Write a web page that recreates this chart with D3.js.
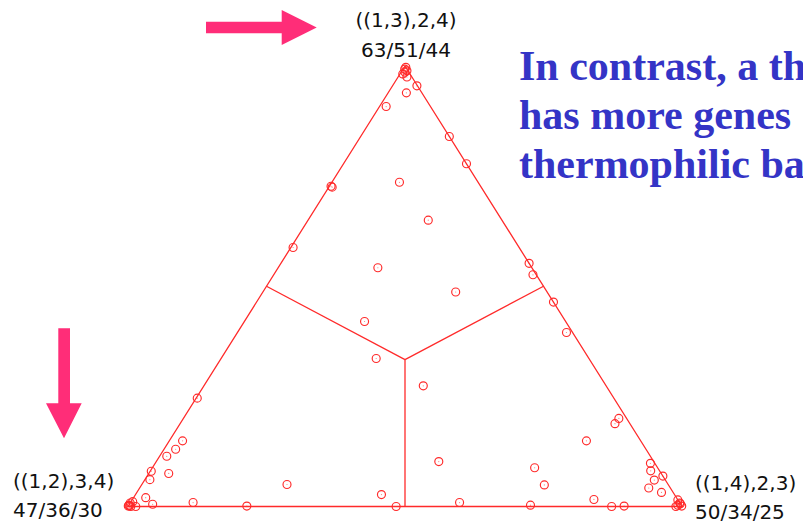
<!DOCTYPE html>
<html>
<head>
<meta charset="utf-8">
<script src="https://cdn.jsdelivr.net/npm/d3@7/dist/d3.min.js"></script>
<style>
  html, body { margin: 0; padding: 0; background: #fff; }
  svg { display: block; }
</style>
</head>
<body>
<script>
// Ternary shares of each gene: top / left / right vertex
const topShare = [
  0.997, 0.993, 0.989, 0.982, 0.975, 0.986, 0.955, 0.939, 0.908, 0.840,
  0.778, 0.727, 0.725, 0.736, 0.650, 0.588, 0.542, 0.552, 0.526, 0.487,
  0.464, 0.395, 0.420, 0.336, 0.274, 0.246, 0.149, 0.130, 0.114, 0.080,
  0.061, 0.075, 0.050, 0.020, 0.005, 0.009, 0.001, 0.011, 0.001, 0.003,
  0.000, 0.008, 0.000, 0.002, 0.102, 0.027, 0.000, 0.009, 0.088, 0.049,
  0.003, 0.200, 0.188, 0.149, 0.098, 0.081, 0.069, 0.060, 0.042, 0.032,
  0.016, 0.000, 0.001, 0.015, 0.008, 0.001, 0.003, 0.000, 0.006
];
const leftShare = [
  0.000, 0.004, 0.002, 0.013, 0.009, 0.007, 0.001, 0.028, 0.080, 0.000,
  0.000, 0.270, 0.269, 0.142, 0.133, 0.408, 0.278, 0.000, 0.006, 0.165,
  0.000, 0.011, 0.363, 0.384, 0.330, 0.752, 0.827, 0.849, 0.873, 0.918,
  0.930, 0.889, 0.688, 0.958, 0.953, 0.878, 0.785, 0.986, 0.999, 0.997,
  0.995, 0.992, 0.986, 0.996, 0.388, 0.529, 0.516, 0.397, 0.222, 0.224,
  0.272, 0.014, 0.027, 0.098, 0.008, 0.016, 0.000, 0.020, 0.039, 0.021,
  0.151, 0.127, 0.104, 0.000, 0.000, 0.000, 0.006, 0.011, 0.000
];
const rightShare = [
  0.003, 0.003, 0.009, 0.005, 0.016, 0.007, 0.044, 0.033, 0.012, 0.160,
  0.222, 0.003, 0.006, 0.122, 0.217, 0.004, 0.180, 0.448, 0.468, 0.348,
  0.536, 0.594, 0.217, 0.280, 0.396, 0.002, 0.024, 0.021, 0.013, 0.002,
  0.009, 0.036, 0.262, 0.022, 0.042, 0.113, 0.214, 0.003, 0.000, 0.000,
  0.005, 0.000, 0.014, 0.002, 0.510, 0.444, 0.484, 0.594, 0.690, 0.727,
  0.725, 0.786, 0.785, 0.753, 0.894, 0.903, 0.931, 0.920, 0.919, 0.947,
  0.833, 0.873, 0.895, 0.985, 0.992, 0.999, 0.991, 0.989, 0.994
];

// Vertex labels: tree topology and counts
const vertexTopology = ["((1,3),2,4)", "((1,2),3,4)", "((1,4),2,3)"];
const vertexCounts   = ["63/51/44", "47/36/30", "50/34/25"];

// Side text
const noteLines = ["In contrast, a thermophilic", "has more genes", "thermophilic bacteria"];

const W = 803, H = 524;
const svg = d3.select("body").append("svg").attr("width", W).attr("height", H);
svg.append("rect").attr("width", W).attr("height", H).attr("fill", "#fff");

// Ternary projection: base position and height share
const xBase = d3.scaleLinear().domain([0, 1]).range([128, 682]);
const yTop  = d3.scaleLinear().domain([0, 1]).range([506.5, 66]);
const project = (t, l, r) => [xBase(r + t / 2), yTop(t)];

const red = "#ff2a2a";
const g = svg.append("g");

// Triangle outline
const corners = [project(1, 0, 0), project(0, 1, 0), project(0, 0, 1)];
g.append("path")
  .attr("d", d3.line()([...corners, corners[0]]))
  .attr("fill", "none").attr("stroke", red).attr("stroke-width", 1.3);

// Region dividers: centroid to mid-points of the sides
const c = project(1 / 3, 1 / 3, 1 / 3);
const mids = [project(0.5, 0.5, 0), project(0.5, 0, 0.5), project(0, 0.5, 0.5)];
mids.forEach(m => {
  g.append("line")
    .attr("x1", c[0]).attr("y1", c[1]).attr("x2", m[0]).attr("y2", m[1])
    .attr("stroke", red).attr("stroke-width", 1.3);
});

// Gene points
const pts = topShare.map((t, i) => project(t, leftShare[i], rightShare[i]));
const pg = g.append("g");
pg.selectAll("circle.ring").data(pts).join("circle")
  .attr("class", "ring")
  .attr("cx", d => d[0]).attr("cy", d => d[1]).attr("r", 4)
  .attr("fill", "none").attr("stroke", red).attr("stroke-width", 1.15);
pg.selectAll("circle.dot").data(pts).join("circle")
  .attr("class", "dot")
  .attr("cx", d => d[0]).attr("cy", d => d[1]).attr("r", 0.6)
  .attr("fill", red).attr("opacity", 0.6);

// Vertex labels
const labelPos = [
  { x: 406, y: 27, anchor: "middle" },
  { x: 13, y: 488, anchor: "start" },
  { x: 695, y: 490, anchor: "start" }
];
labelPos.forEach((p, i) => {
  const txt = svg.append("text")
    .attr("x", p.x).attr("y", p.y)
    .attr("text-anchor", p.anchor)
    .attr("font-family", "DejaVu Sans, Verdana, sans-serif")
    .attr("font-size", 20).attr("fill", "#111");
  txt.append("tspan").attr("x", p.x).text(vertexTopology[i]);
  txt.append("tspan").attr("x", p.x).attr("dy", i === 0 ? 30 : 28.5).text(vertexCounts[i]);
});

// Pointer arrows
const pink = "#ff2d78";
svg.append("path")
  .attr("d", "M206,21.7 L281.7,21.7 L281.7,10 L316.7,27.5 L281.7,45 L281.7,33.3 L206,33.3 Z")
  .attr("fill", pink);
svg.append("path")
  .attr("d", "M58.3,328.3 L70,328.3 L70,403.3 L81.7,403.3 L64,438.3 L46,403.3 L58.3,403.3 Z")
  .attr("fill", pink);

// Side note
svg.append("g").selectAll("text").data(noteLines).join("text")
  .attr("x", 519).attr("y", (d, i) => 80 + i * 49)
  .attr("font-family", "Liberation Serif, Times New Roman, serif")
  .attr("font-weight", "bold").attr("font-size", 42)
  .attr("fill", "#3434c6")
  .text(d => d);
</script>
</body>
</html>
